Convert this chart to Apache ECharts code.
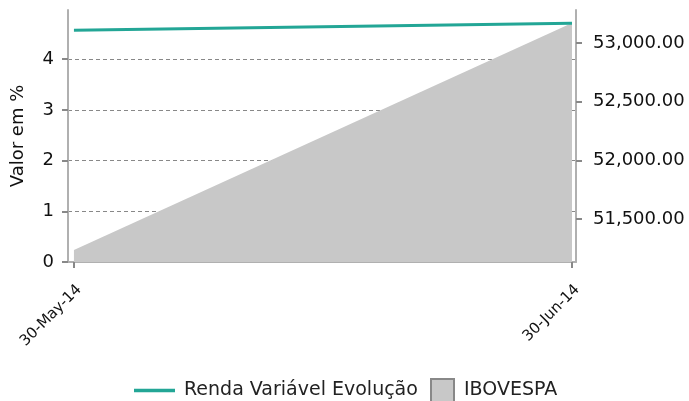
<!DOCTYPE html>
<html>
<head>
<meta charset="utf-8">
<script src="https://cdn.jsdelivr.net/npm/echarts@6/dist/echarts.min.js"></script>
<style>
  html, body { margin: 0; padding: 0; background: #fff; }
  #chart { width: 689px; height: 401px; }
</style>
</head>
<body>
<div id="chart"></div>
<script>
// dados
var dates = ['2014-05-30', '2014-06-30']
var rendaVariavel = [4.57, 4.71]
var ibovespa = [51236, 53170]
var leftTicks = [0, 1, 2, 3, 4]
var rightTicks = [51500, 52000, 52500, 53000]
var meses = ['Jan', 'Feb', 'Mar', 'Apr', 'May', 'Jun', 'Jul', 'Aug', 'Sep', 'Oct', 'Nov', 'Dec']

var DAY = 24 * 3600 * 1000
var times = dates.map(function (d) { return echarts.time.parse(d).getTime() })

var myChart = echarts.init(document.getElementById('chart'))

var axisColor = '#b0b0b0'
var tickColor = '#888'
var fonte = 'DejaVu Sans'

var option = {
  animation: false,
  textStyle: { fontFamily: fonte },
  grid: { left: 68, right: 113, top: 10, bottom: 139, outerBoundsMode: 'none' },
  legend: [
    {
      data: [{ name: 'Renda Variável Evolução', icon: 'rect' }],
      left: 134, top: 381, padding: 0,
      itemWidth: 41, itemHeight: 3.5,
      textStyle: { fontSize: 19, color: '#222', fontFamily: fonte, padding: [0, 0, 0, 4] }
    },
    {
      data: [{ name: 'IBOVESPA', icon: 'rect' }],
      left: 430, top: 378, padding: 0,
      itemWidth: 23, itemHeight: 23,
      itemStyle: { borderColor: '#888', borderWidth: 2 },
      textStyle: { fontSize: 19, color: '#222', fontFamily: fonte, padding: [0, 0, 0, 5] }
    }
  ],
  xAxis: {
    // eixo de valores com timestamps (customValues no eixo time dá erro)
    type: 'value',
    min: times[0] - 0.37 * DAY,
    max: times[times.length - 1] + 0.25 * DAY,
    axisLine: { show: true, onZero: false, lineStyle: { color: axisColor, width: 2 } },
    axisTick: { show: true, customValues: times, length: 6, lineStyle: { color: tickColor, width: 2 } },
    axisLabel: {
      customValues: times,
      rotate: 45,
      fontSize: 15,
      color: '#111',
      margin: 20,
      verticalAlign: 'top',
      formatter: function (v) {
        var d = new Date(v)
        return d.getDate() + '-' + meses[d.getMonth()] + '-' + String(d.getFullYear()).slice(2)
      }
    },
    splitLine: { show: false }
  },
  yAxis: [
    {
      type: 'value',
      min: 0,
      max: 4.97,
      name: 'Valor em %',
      nameLocation: 'middle',
      nameGap: 41,
      nameRotate: 90,
      nameTextStyle: { fontSize: 18, color: '#111' },
      axisLine: { show: true, lineStyle: { color: axisColor, width: 2 } },
      axisTick: { show: true, customValues: leftTicks, length: 6, lineStyle: { color: tickColor, width: 2 } },
      axisLabel: { customValues: leftTicks, fontSize: 18, color: '#111', margin: 14 },
      splitLine: { show: true, lineStyle: { color: '#888', type: [4, 3], width: 1 } }
    },
    {
      type: 'value',
      min: 51134,
      max: 53281,
      position: 'right',
      axisLine: { show: true, lineStyle: { color: axisColor, width: 2 } },
      axisTick: { show: true, customValues: rightTicks, length: 6, lineStyle: { color: tickColor, width: 2 } },
      axisLabel: {
        customValues: rightTicks,
        fontSize: 18,
        color: '#111',
        margin: 17,
        formatter: function (v) {
          return v.toLocaleString('en-US', { minimumFractionDigits: 2, maximumFractionDigits: 2 })
        }
      },
      splitLine: { show: false }
    }
  ],
  series: [
    {
      name: 'IBOVESPA',
      type: 'line',
      yAxisIndex: 1,
      symbol: 'none',
      z: 1,
      data: times.map(function (t, i) { return [t, ibovespa[i]] }),
      lineStyle: { width: 0, color: '#c8c8c8' },
      itemStyle: { color: '#c8c8c8' },
      areaStyle: { color: '#c8c8c8', opacity: 1, origin: 'start' }
    },
    {
      name: 'Renda Variável Evolução',
      type: 'line',
      yAxisIndex: 0,
      symbol: 'none',
      z: 3,
      data: times.map(function (t, i) { return [t, rendaVariavel[i]] }),
      lineStyle: { width: 3, color: '#23a696' },
      itemStyle: { color: '#23a696' }
    }
  ]
}

myChart.setOption(option)
window.onresize = function () {
  myChart.resize()
}
</script>
</body>
</html>
